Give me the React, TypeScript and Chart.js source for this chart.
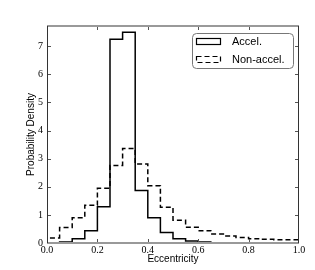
import React, { useEffect, useRef } from "react";
import { Chart, registerables } from "chart.js";

Chart.register(...registerables);

const binEdges = [0.0, 0.05, 0.1, 0.15, 0.2, 0.25, 0.3, 0.35, 0.4, 0.45, 0.5, 0.55, 0.6, 0.65, 0.7, 0.75, 0.8, 0.85, 0.9, 0.95, 1.0];
const accelValues = [0.0, 0.035, 0.15, 0.44, 1.29, 7.25, 7.5, 1.87, 0.9, 0.37, 0.15, 0.07, 0.035, 0.01, 0.005, 0.0, 0.0, 0.0, 0.0, 0.0];
const nonAccelValues = [0.18, 0.55, 0.9, 1.34, 1.95, 2.76, 3.36, 2.81, 2.04, 1.27, 0.81, 0.56, 0.44, 0.32, 0.25, 0.2, 0.15, 0.13, 0.12, 0.12];
const xTicks = [0.0, 0.2, 0.4, 0.6, 0.8, 1.0];
const yTicks = [0, 1, 2, 3, 4, 5, 6, 7];
const seriesLabels = ["Accel.", "Non-accel."];

function stepPoints(values: number[]) {
  const pts = [{ x: binEdges[0], y: 0 }];
  values.forEach((v, i) => pts.push({ x: binEdges[i], y: v }));
  const last = binEdges[binEdges.length - 1];
  pts.push({ x: last, y: values[values.length - 1] });
  pts.push({ x: last, y: 0 });
  return pts;
}

const framePlugin = {
  id: "frame",
  afterDraw(chart: any) {
    const { ctx, chartArea } = chart;
    const { left, right, top, bottom } = chartArea;
    const xs = chart.scales.x;
    const ys = chart.scales.y;
    ctx.save();
    ctx.strokeStyle = "#555";
    ctx.lineWidth = 1;
    ctx.beginPath();
    xTicks.forEach((t) => {
      if (t <= 0 || t >= 1) return;
      const px = Math.round(xs.getPixelForValue(t)) + 0.5;
      ctx.moveTo(px, bottom);
      ctx.lineTo(px, bottom - 4);
      ctx.moveTo(px, top);
      ctx.lineTo(px, top + 4);
    });
    yTicks.forEach((t) => {
      if (t <= 0) return;
      const py = Math.round(ys.getPixelForValue(t)) + 0.5;
      ctx.moveTo(left, py);
      ctx.lineTo(left + 4, py);
      ctx.moveTo(right, py);
      ctx.lineTo(right - 4, py);
    });
    ctx.stroke();
    ctx.strokeStyle = "#999";
    ctx.lineWidth = 2;
    ctx.beginPath();
    ctx.moveTo(left, top);
    ctx.lineTo(right, top);
    ctx.moveTo(left, bottom);
    ctx.lineTo(right, bottom);
    ctx.stroke();
    ctx.strokeStyle = "#333";
    ctx.lineWidth = 1;
    ctx.beginPath();
    ctx.moveTo(left + 0.5, top);
    ctx.lineTo(left + 0.5, bottom);
    ctx.moveTo(right - 0.5, top);
    ctx.lineTo(right - 0.5, bottom);
    ctx.stroke();

    const lx = 192, ly = 33, lw = 101, lh = 35, r = 4;
    ctx.fillStyle = "#fff";
    ctx.strokeStyle = "#777";
    ctx.lineWidth = 1;
    ctx.beginPath();
    ctx.moveTo(lx + r + 0.5, ly + 0.5);
    ctx.lineTo(lx + lw - r + 0.5, ly + 0.5);
    ctx.arcTo(lx + lw + 0.5, ly + 0.5, lx + lw + 0.5, ly + r + 0.5, r);
    ctx.lineTo(lx + lw + 0.5, ly + lh - r + 0.5);
    ctx.arcTo(lx + lw + 0.5, ly + lh + 0.5, lx + lw - r + 0.5, ly + lh + 0.5, r);
    ctx.lineTo(lx + r + 0.5, ly + lh + 0.5);
    ctx.arcTo(lx + 0.5, ly + lh + 0.5, lx + 0.5, ly + lh - r + 0.5, r);
    ctx.lineTo(lx + 0.5, ly + r + 0.5);
    ctx.arcTo(lx + 0.5, ly + 0.5, lx + r + 0.5, ly + 0.5, r);
    ctx.closePath();
    ctx.fill();
    ctx.stroke();

    chart.data.datasets.forEach((ds: any, i: number) => {
      const rowY = ly + 9 + i * 18;
      ctx.strokeStyle = "#000";
      ctx.lineWidth = 1.2;
      ctx.setLineDash(ds.borderDash || []);
      ctx.strokeRect(196.5, rowY - 3.5, 24, 6);
      ctx.setLineDash([]);
      ctx.fillStyle = "#000";
      ctx.font = "11px 'Liberation Sans', Arial, sans-serif";
      ctx.textBaseline = "middle";
      ctx.textAlign = "left";
      ctx.fillText(ds.label, 232, rowY);
    });
    ctx.restore();
  },
};

export default function App() {
  const ref = useRef<HTMLCanvasElement | null>(null);
  useEffect(() => {
    document.body.style.margin = "0";
    const canvas = ref.current!;
    const chart = new Chart(canvas, {
      type: "line",
      data: {
        datasets: [
          {
            label: seriesLabels[0],
            data: stepPoints(accelValues),
            stepped: "before",
            borderColor: "#000",
            borderWidth: 1.5,
            pointRadius: 0,
            fill: false,
          },
          {
            label: seriesLabels[1],
            data: stepPoints(nonAccelValues),
            stepped: "before",
            borderColor: "#000",
            borderWidth: 1.5,
            borderDash: [5, 3],
            pointRadius: 0,
            fill: false,
          },
        ],
      },
      options: {
        animation: false,
        responsive: false,
        layout: { padding: { left: 0, right: 16, top: 26, bottom: 0 } },
        plugins: { legend: { display: false }, tooltip: { enabled: false } },
        scales: {
          x: {
            type: "linear",
            min: 0,
            max: 1,
            grid: { display: false, drawTicks: false },
            border: { display: false },
            afterBuildTicks: (s: any) => {
              s.ticks = xTicks.map((v) => ({ value: v }));
            },
            afterFit: (s: any) => {
              s.height = 27;
            },
            ticks: {
              padding: 1,
              color: "#000",
              font: { family: "'Liberation Serif', 'DejaVu Serif', serif", size: 10 },
              callback: (v: any) => Number(v).toFixed(1),
              maxRotation: 0,
            },
            title: {
              display: true,
              text: "Eccentricity",
              color: "#000",
              font: { family: "'Liberation Sans', Arial, sans-serif", size: 10 },
              padding: { top: 0, bottom: 5 },
            },
          },
          y: {
            type: "linear",
            min: 0,
            max: 7.72,
            grid: { display: false, drawTicks: false },
            border: { display: false },
            afterBuildTicks: (s: any) => {
              s.ticks = yTicks.map((v) => ({ value: v }));
            },
            afterFit: (s: any) => {
              s.width = 47;
            },
            ticks: {
              padding: 4,
              color: "#000",
              font: { family: "'Liberation Serif', 'DejaVu Serif', serif", size: 10 },
              callback: (v: any) => String(v),
            },
            title: {
              display: true,
              text: "Probability Density",
              color: "#000",
              font: { family: "'Liberation Sans', Arial, sans-serif", size: 10 },
              padding: { top: 25, bottom: 0 },
            },
          },
        },
      },
      plugins: [framePlugin],
    });
    return () => chart.destroy();
  }, []);
  return (
    <div style={{ width: 315, height: 270 }}>
      <canvas ref={ref} width={315} height={270} style={{ display: "block" }} />
    </div>
  );
}
